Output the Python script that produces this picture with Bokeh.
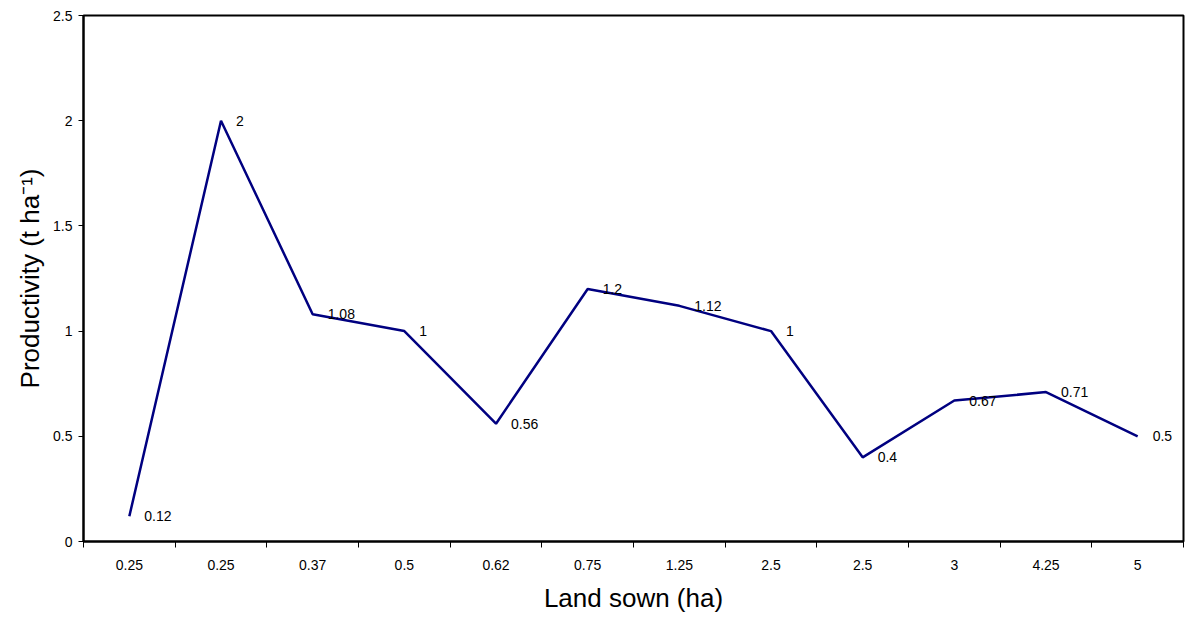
from bokeh.plotting import figure
from bokeh.models import FixedTicker, Range1d, ColumnDataSource
from bokeh.core.properties import value
from bokeh.embed import file_html
from bokeh.resources import INLINE

land_labels = ["0.25", "0.25", "0.37", "0.5", "0.62", "0.75", "1.25", "2.5", "2.5", "3", "4.25", "5"]
productivity = [0.12, 2, 1.08, 1, 0.56, 1.2, 1.12, 1, 0.4, 0.67, 0.71, 0.5]
y_ticks = [0, 0.5, 1, 1.5, 2, 2.5]
y_tick_labels = ["0", "0.5", "1", "1.5", "2", "2.5"]

n = len(land_labels)
xs = [i + 0.5 for i in range(n)]
label_text = [("%g" % v) for v in productivity]
src = ColumnDataSource(dict(x=xs, y=productivity, t=label_text))

p = figure(width=1186, height=615, output_backend="svg", toolbar_location=None,
           x_range=Range1d(0, n), y_range=Range1d(0, 2.5),
           min_border_left=83, min_border_right=3, min_border_top=15, min_border_bottom=74)
p.background_fill_color = "white"
p.border_fill_color = "white"
p.outline_line_color = "black"
p.outline_line_width = 2
p.xgrid.visible = False
p.ygrid.visible = False

p.line("x", "y", source=src, line_color="#000080", line_width=2.5)
p.text("x", "y", text="t", source=src, x_offset=15, text_baseline="middle",
       text_align="left", text_font=value("Liberation Sans"), text_font_size="14px",
       text_color="black")

xa = p.xaxis[0]
xa.ticker = FixedTicker(ticks=xs, minor_ticks=list(range(n + 1)))
xa.major_label_overrides = {x: l for x, l in zip(xs, land_labels)}
xa.major_tick_line_color = None
xa.minor_tick_line_color = "black"
xa.minor_tick_out = 6
xa.minor_tick_in = 0
xa.minor_tick_line_width = 1
xa.major_label_standoff = 12
xa.axis_label = "Land sown (ha)"
xa.axis_label_text_font = "Liberation Sans"
xa.axis_label_text_font_style = "normal"
xa.axis_label_text_font_size = "26px"
xa.axis_label_text_color = "black"
xa.axis_label_standoff = 10
xa.major_label_text_font = "Liberation Sans"
xa.major_label_text_font_size = "14px"
xa.major_label_text_color = "black"
xa.axis_line_width = 2
xa.axis_line_color = "black"

ya = p.yaxis[0]
ya.ticker = FixedTicker(ticks=y_ticks, minor_ticks=[])
ya.major_label_overrides = {t: l for t, l in zip(y_ticks, y_tick_labels)}
ya.major_tick_out = 5
ya.major_tick_in = 0
ya.major_tick_line_color = "black"
ya.minor_tick_line_color = None
ya.major_label_standoff = 6
ya.axis_label = "Productivity (t ha\u207b\u00b9)"
ya.axis_label_text_font = "Liberation Sans"
ya.axis_label_text_font_style = "normal"
ya.axis_label_text_font_size = "26px"
ya.axis_label_text_color = "black"
ya.axis_label_standoff = 5
ya.major_label_text_font = "Liberation Sans"
ya.major_label_text_font_size = "14px"
ya.major_label_text_color = "black"
ya.axis_line_width = 2
ya.axis_line_color = "black"

open("out.html", "w").write(file_html(p, INLINE))
